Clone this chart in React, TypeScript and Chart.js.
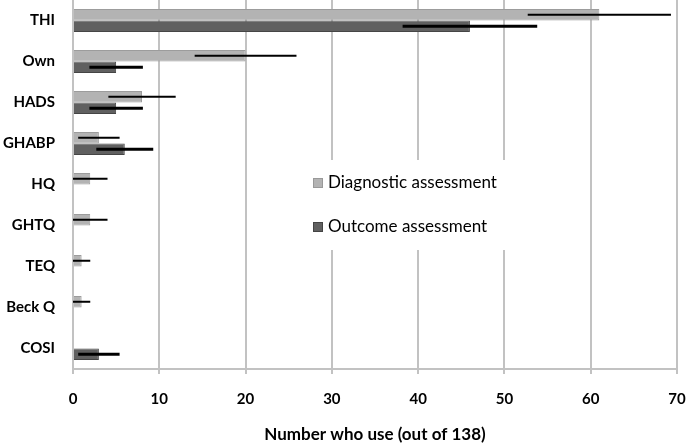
import React, { useEffect, useRef } from "react";
import { Chart, registerables } from "chart.js";

Chart.register(...registerables);

const categories = ["THI", "Own", "HADS", "GHABP", "HQ", "GHTQ", "TEQ", "Beck Q", "COSI"];
const diagnosticValues = [61, 20, 8, 3, 2, 2, 1, 1, 0];
const diagnosticErrors = [8.3, 5.9, 3.9, 2.4, 2, 2, 1, 1, 0];
const outcomeValues = [46, 5, 5, 6, 0, 0, 0, 0, 3];
const outcomeErrors = [7.8, 3.1, 3.1, 3.3, 0, 0, 0, 0, 2.4];
const xTicks = [0, 10, 20, 30, 40, 50, 60, 70];
const seriesNames = ["Diagnostic assessment", "Outcome assessment"];
const xTitle = "Number who use (out of 138)";

const FONT = "Lato, 'Open Sans', sans-serif";

const errorBarPlugin = {
  id: "errorBars",
  afterDatasetsDraw(chart: any) {
    const ctx = chart.ctx;
    const xs = chart.scales.x;
    const errs = [diagnosticErrors, outcomeErrors];
    const vals = [diagnosticValues, outcomeValues];
    const widths = [2, 3];
    chart.data.datasets.forEach((_: any, di: number) => {
      const meta = chart.getDatasetMeta(di);
      meta.data.forEach((bar: any, i: number) => {
        const e = errs[di][i];
        if (!e) return;
        const v = vals[di][i];
        const x1 = xs.getPixelForValue(Math.max(0, v - e));
        const x2 = xs.getPixelForValue(v + e);
        ctx.save();
        ctx.strokeStyle = "#000";
        ctx.lineWidth = widths[di];
        ctx.beginPath();
        ctx.moveTo(x1, bar.y);
        ctx.lineTo(x2, bar.y);
        ctx.stroke();
        ctx.restore();
      });
    });
    // legend box
    const lx = xs.getPixelForValue(26.5);
    const rx = xs.getPixelForValue(59.3);
    ctx.save();
    ctx.fillStyle = "#fff";
    ctx.fillRect(lx, 160, rx - lx, 90);
    const colors = [["#b3b3b3", "#999"], ["#606060", "#444"]];
    const ys = [183, 227];
    ctx.font = "17px " + FONT;
    ctx.textBaseline = "middle";
    ctx.textAlign = "left";
    seriesNames.forEach((name, k) => {
      ctx.fillStyle = colors[k][0];
      ctx.fillRect(313, ys[k] - 5, 10, 10);
      ctx.strokeStyle = colors[k][1];
      ctx.lineWidth = 1;
      ctx.strokeRect(313.5, ys[k] - 4.5, 9, 9);
      ctx.fillStyle = "#000";
      ctx.fillText(name, 328, ys[k]);
    });
    ctx.restore();
  },
};

export default function App() {
  const ref = useRef<HTMLCanvasElement>(null);
  useEffect(() => {
    document.body.style.margin = "0";
    const chart = new Chart(ref.current!, {
      type: "bar",
      data: {
        labels: categories,
        datasets: [
          {
            label: seriesNames[0],
            data: diagnosticValues,
            backgroundColor: "#b3b3b3",
            borderColor: "#9c9c9c",
            borderWidth: 1,
            categoryPercentage: 0.56,
            barPercentage: 1,
          },
          {
            label: seriesNames[1],
            data: outcomeValues,
            backgroundColor: "#606060",
            borderColor: "#454545",
            borderWidth: 1,
            categoryPercentage: 0.56,
            barPercentage: 1,
          },
        ],
      },
      options: {
        indexAxis: "y",
        animation: false,
        responsive: false,
        maintainAspectRatio: false,
        layout: { padding: { left: 0, right: 11, top: 0, bottom: 0 } },
        plugins: { legend: { display: false }, tooltip: { enabled: false } },
        scales: {
          x: {
            min: 0,
            max: 70,
            afterBuildTicks: (s: any) => {
              s.ticks = xTicks.map((v) => ({ value: v }));
            },
            afterFit: (s: any) => {
              s.height = 76;
              s.paddingLeft = 0;
              s.paddingRight = 0;
            },
            grid: { color: "#c2c2c2", lineWidth: 2, tickLength: 5, tickColor: "#c2c2c2" },
            border: { color: "#c2c2c2", width: 2 },
            ticks: { color: "#000", font: { family: FONT, size: 15, weight: "bold" }, padding: 16 },
            title: {
              display: true,
              text: xTitle,
              color: "#000",
              font: { family: FONT, size: 17, weight: "bold" },
              padding: { top: 0, bottom: 0 },
            },
          },
          y: {
            afterFit: (s: any) => {
              s.width = 73;
              s.paddingTop = 0;
              s.paddingBottom = 0;
            },
            grid: { display: false, drawTicks: false, tickLength: 0 },
            border: { color: "#c2c2c2", width: 2 },
            ticks: { color: "#000", font: { family: FONT, size: 15, weight: "bold" }, padding: 18 },
          },
        },
      },
      plugins: [errorBarPlugin],
    } as any);
    return () => chart.destroy();
  }, []);
  return (
    <div style={{ position: "absolute", left: 0, top: 0, width: 688, height: 445, background: "#fff" }}>
      <canvas ref={ref} width={688} height={445} />
    </div>
  );
}
